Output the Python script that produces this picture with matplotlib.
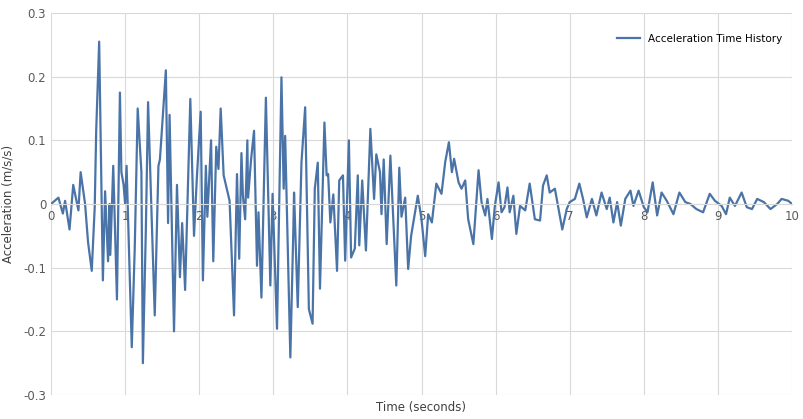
import matplotlib
matplotlib.use("Agg")
import matplotlib.pyplot as plt

time_s = [0,0.1,0.16,0.19,0.25,0.3,0.37,0.4,0.46,0.5,0.55,0.59,0.61,0.65,0.69,0.7,0.73,0.77,0.79,0.8,0.84,0.89,0.93,0.95,0.98,1.0,1.02,1.09,1.13,1.17,1.22,1.24,1.28,1.31,1.4,1.45,1.47,1.55,1.58,1.6,1.66,1.7,1.74,1.77,1.81,1.88,1.93,1.97,2.02,2.05,2.09,2.11,2.16,2.19,2.23,2.26,2.29,2.33,2.41,2.47,2.51,2.54,2.57,2.59,2.62,2.65,2.66,2.7,2.74,2.78,2.8,2.84,2.9,2.96,2.99,3.05,3.11,3.14,3.16,3.23,3.27,3.28,3.33,3.38,3.43,3.48,3.53,3.56,3.6,3.63,3.69,3.72,3.74,3.77,3.81,3.86,3.89,3.94,3.97,4.02,4.05,4.1,4.14,4.16,4.2,4.25,4.31,4.36,4.39,4.44,4.46,4.49,4.53,4.58,4.66,4.7,4.73,4.78,4.82,4.86,4.95,5.0,5.05,5.09,5.14,5.2,5.27,5.32,5.37,5.41,5.44,5.5,5.54,5.59,5.63,5.7,5.74,5.77,5.81,5.86,5.89,5.95,5.99,6.04,6.08,6.12,6.16,6.19,6.24,6.28,6.33,6.4,6.46,6.53,6.6,6.64,6.69,6.73,6.8,6.85,6.9,6.96,7.0,7.07,7.13,7.18,7.23,7.3,7.36,7.43,7.5,7.54,7.59,7.64,7.69,7.75,7.82,7.86,7.93,8.0,8.05,8.12,8.18,8.24,8.31,8.4,8.48,8.56,8.63,8.71,8.8,8.89,8.96,9.05,9.11,9.16,9.23,9.32,9.39,9.46,9.53,9.62,9.71,9.8,9.86,9.95,10.0]
accel = [0,0.01,-0.015,0.005,-0.04,0.03,-0.01,0.05,0,-0.06,-0.105,-0.005,0.115,0.255,-0.04,-0.12,0.02,-0.09,0,-0.08,0.06,-0.15,0.175,0.05,0.03,0,0.06,-0.225,-0.07,0.15,0.05,-0.25,-0.04,0.16,-0.175,0.06,0.07,0.21,-0.03,0.14,-0.2,0.03,-0.115,-0.03,-0.135,0.165,-0.05,0.045,0.145,-0.12,0.06,-0.02,0.1,-0.09,0.09,0.055,0.15,0.045,0.005,-0.175,0.047,-0.086,0.08,0.013,-0.024,0.1,0.01,0.07,0.115,-0.097,-0.013,-0.147,0.167,-0.128,0.016,-0.196,0.199,0.024,0.107,-0.241,-0.042,0.018,-0.162,0.065,0.152,-0.165,-0.188,0.024,0.065,-0.133,0.128,0.045,0.047,-0.029,0.015,-0.105,0.037,0.045,-0.089,0.1,-0.084,-0.07,0.045,-0.065,0.037,-0.073,0.118,0.008,0.078,0.05,-0.016,0.07,-0.063,0.076,-0.128,0.057,-0.02,0.01,-0.102,-0.05,0.013,-0.024,-0.082,-0.016,-0.029,0.032,0.016,0.066,0.097,0.05,0.071,0.034,0.024,0.037,-0.024,-0.063,0.003,0.053,0.003,-0.018,0.008,-0.055,-0.003,0.034,-0.013,-0.005,0.026,-0.013,0.013,-0.047,-0.003,-0.01,0.032,-0.024,-0.026,0.029,0.045,0.018,0.024,-0.008,-0.04,-0.008,0.003,0.008,0.032,0.008,-0.021,0.008,-0.018,0.018,-0.008,0.01,-0.029,0.003,-0.034,0.008,0.021,-0.003,0.021,-0.005,-0.013,0.034,-0.018,0.018,0.005,-0.016,0.018,0.003,0.0,-0.008,-0.013,0.016,0.005,-0.003,-0.016,0.01,-0.003,0.018,-0.005,-0.008,0.008,0.003,-0.008,0.0,0.008,0.005,0.0]

fig = plt.figure(figsize=(8.04, 4.19), dpi=100)
ax = fig.add_axes([51/804, 1-395/419, 741/804, 382/419])
ax.plot(time_s, accel, color='#4A74A8', lw=1.6, label='Acceleration Time History')
ax.set_xlim(0, 10)
ax.set_ylim(-0.3, 0.3)
ax.set_xticks(range(0, 11))
ax.set_yticks([-0.3, -0.2, -0.1, 0, 0.1, 0.2, 0.3])
ax.set_yticklabels(['-0.3', '-0.2', '-0.1', '0', '0.1', '0.2', '0.3'])
ax.grid(True, color='#D9D9D9', lw=0.8)
ax.set_axisbelow(True)
for s in ['top', 'right', 'left']:
    ax.spines[s].set_visible(False)
ax.spines['bottom'].set_position(('data', 0))
ax.spines['bottom'].set_color('#D9D9D9')
ax.tick_params(length=0, labelsize=8.5, colors='#595959')
ax.tick_params(axis='x', pad=4)
ax.set_xlabel('Time (seconds)', fontsize=8.5, color='#404040')
ax.xaxis.set_label_coords(0.5, -0.015)
ax.set_ylabel('Acceleration (m/s/s)', fontsize=8.5, color='#404040', labelpad=6)
ax.legend(loc='upper right', frameon=False, fontsize=7.5, bbox_to_anchor=(1.0, 0.97), handlelength=2.2)
fig.savefig('out.png', dpi=100, facecolor='white')
